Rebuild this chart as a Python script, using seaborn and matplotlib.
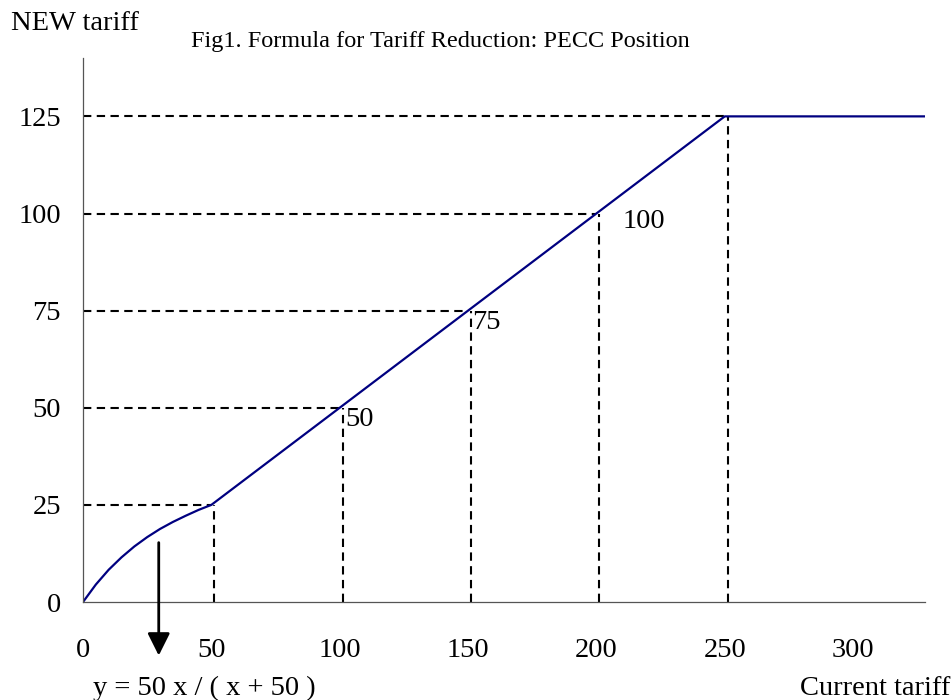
import matplotlib
matplotlib.use('Agg')
import matplotlib.pyplot as plt
import seaborn as sns
import pandas as pd

curve_x = [0, 5, 10, 15, 20, 25, 30, 35, 40, 45, 50]
curve_y = [0, 4.5, 8.3, 11.5, 14.3, 16.7, 18.8, 20.6, 22.2, 23.7, 25]
line_x = [100, 150, 200, 250, 328]
line_y = [50, 75, 100, 125, 125]

guide_x = [50, 100, 150, 200, 250]
guide_y = [25, 50, 75, 100, 125]

label_x = [100, 150, 200]
label_y = [50, 75, 100]
label_text = ['50', '75', '100']
label_dx = [2, 1.5, 10]
label_dy = [-3, -3, -2]

x_ticks = [0, 50, 100, 150, 200, 250, 300]
y_ticks = [0, 25, 50, 75, 100, 125]

df = pd.DataFrame({'x': curve_x + line_x, 'y': curve_y + line_y})

sns.set_style('white')
plt.rcParams['font.family'] = ['Liberation Serif', 'DejaVu Serif']
plt.rcParams['font.size'] = 20.5
plt.rcParams['text.color'] = 'black'
plt.rcParams['xtick.labelcolor'] = 'black'
plt.rcParams['ytick.labelcolor'] = 'black'

fig = plt.figure(figsize=(9.52, 7), dpi=100)
ax = fig.add_axes([0.0872, 0.14, 0.8844, 0.777])

dash = (0, (4, 2.6))
for gx, gy in zip(guide_x, guide_y):
    ax.hlines(gy, 0, gx, colors='black', linestyles=dash, linewidth=1.5)
    ax.vlines(gx + 1.2, 0, gy, colors='black', linestyles=dash, linewidth=1.5)

sns.lineplot(data=df, x='x', y='y', sort=False, color='#000080', linewidth=1.6, ax=ax)

for lx, ly, t, dx, dy in zip(label_x, label_y, label_text, label_dx, label_dy):
    ax.text(lx + dx, ly + dy, t, ha='left', va='center', fontsize=20.5)

ax.set_xlim(0, 328)
ax.set_ylim(0, 140)
ax.set_xticks(x_ticks)
ax.set_yticks(y_ticks)
ax.tick_params(axis='x', direction='in', length=7, width=0.8, color='#555555', pad=26, labelsize=20.5)
ax.tick_params(axis='y', direction='in', length=6, width=0.8, color='#555555', pad=16, labelsize=20.5)
ax.set_xlabel('')
ax.set_ylabel('')
for s in ['top', 'right']:
    ax.spines[s].set_visible(False)
for s in ['left', 'bottom']:
    ax.spines[s].set_color('#555555')
    ax.spines[s].set_linewidth(0.9)

ax.annotate('', xy=(29.5, -14.5), xytext=(29.5, 16), xycoords='data',
            arrowprops=dict(arrowstyle='-|>', color='black', lw=2, mutation_scale=34),
            annotation_clip=False)

fig.text(0.098, 0.017, 'y = 50 x / ( x + 50 )', ha='left', va='center', fontsize=20.5)
fig.text(0.998, 0.017, 'Current tariff', ha='right', va='center', fontsize=20.5)
fig.text(0.012, 0.966, 'NEW tariff', ha='left', va='center', fontsize=20.5)
fig.text(0.463, 0.941, 'Fig1. Formula for Tariff Reduction: PECC Position', ha='center', va='center', fontsize=17.5)

fig.savefig('out.png', dpi=100)
